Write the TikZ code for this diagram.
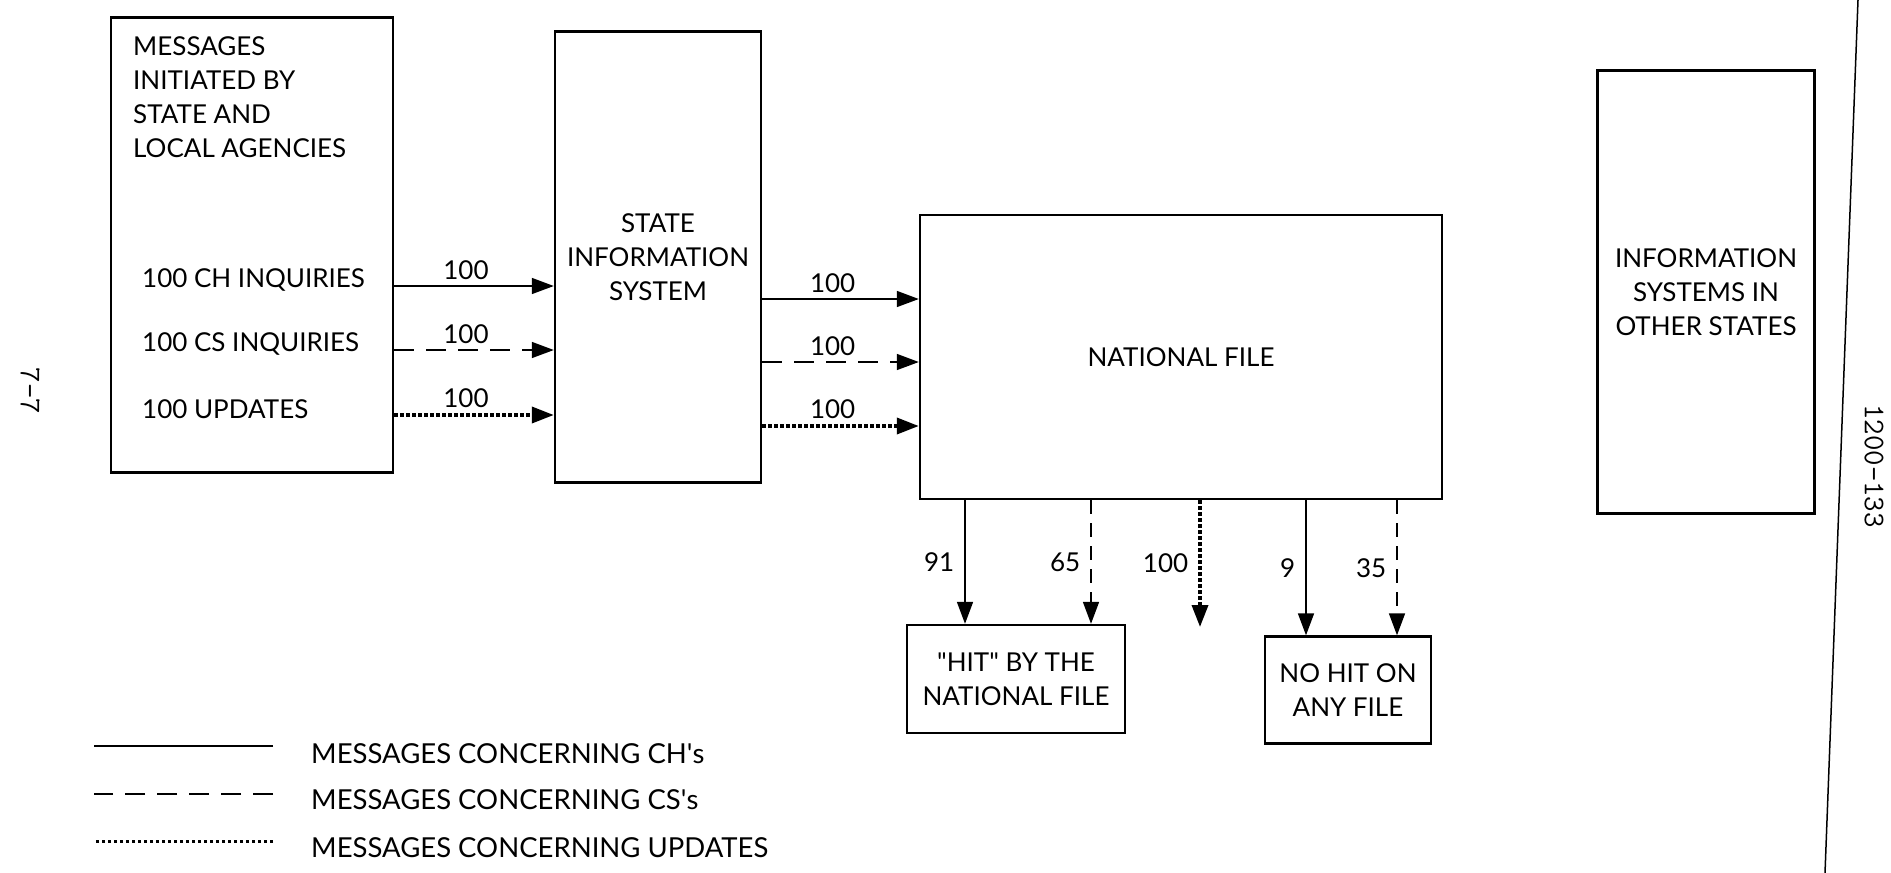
\documentclass[tikz,border=0pt]{standalone}
\usepackage{fontspec}
\setmainfont{Lato}
\usetikzlibrary{arrows.meta,positioning}

\begin{document}
\begin{tikzpicture}[
    x=1pt, y=-1pt,
    font=\fontsize{26}{34}\selectfont,
    box/.style={draw,line width=2.4pt,align=center,inner sep=0pt},
    txt/.style={align=left,inner sep=0pt,anchor=west},
    lgd/.style={txt,font=\fontsize{27.5}{34}\selectfont},
    lbl/.style={inner sep=6pt},
    vlbl/.style={inner sep=10pt},
    ar/.style={-{Triangle[length=22pt,width=16pt]}},
    chl/.style={line width=1.6pt},
    csl/.style={line width=1.6pt,dash pattern=on 20pt off 12pt},
    csv/.style={line width=1.6pt,dash pattern=on 14pt off 9pt},
    updl/.style={line width=3.6pt,dash pattern=on 3.5pt off 2.5pt},
    pgno/.style={rotate=-90,inner sep=0pt,font=\ttfamily\fontsize{30}{30}\selectfont}
  ]
  \useasboundingbox (0,0) rectangle (1891,873);

  % boxes
  \node[box,minimum width=282pt,minimum height=455pt] (msg) at (252,245) {};
  \node[box,minimum width=206pt,minimum height=451pt] (sis) at (658,257) {STATE\\INFORMATION\\SYSTEM};
  \node[box,minimum width=522pt,minimum height=284pt] (national) at (1181,357) {NATIONAL FILE};
  \node[box,minimum width=217pt,minimum height=443pt] (other) at (1706,292) {INFORMATION\\SYSTEMS IN\\OTHER STATES};
  \node[box,minimum width=218pt,minimum height=108pt] (hit) at (1016,679) {\textquotedbl HIT\textquotedbl{} BY THE\\NATIONAL FILE};
  \node[box,minimum width=166pt,minimum height=107pt] (nohit) at (1348,690) {NO HIT ON\\ANY FILE};

  % texts in the first box
  \node[txt,anchor=north west] (head) at (133,36) {MESSAGES\\INITIATED BY\\STATE AND\\LOCAL AGENCIES};
  \node[txt] (ch) at (142,280) {100 CH INQUIRIES};
  \node[txt] (cs) at (142,344) {100 CS INQUIRIES};
  \node[txt] (upd) at (142,409) {100 UPDATES};

  % message rows
  \coordinate (r1) at (0,286);
  \coordinate (r2) at (0,350);
  \coordinate (r3) at (0,415);
  \coordinate (s1) at (0,299);
  \coordinate (s2) at (0,362);
  \coordinate (s3) at (0,426);
  \draw[chl,ar] (msg.east |- r1) -- node[lbl,above,pos=0.45] {100} (sis.west |- r1);
  \draw[csl,ar] (msg.east |- r2) -- node[lbl,above,pos=0.45] {100} (sis.west |- r2);
  \draw[updl,ar] (msg.east |- r3) -- node[lbl,above,pos=0.45] {100} (sis.west |- r3);
  \draw[chl,ar] (sis.east |- s1) -- node[lbl,above,pos=0.45] {100} (national.west |- s1);
  \draw[csl,ar] (sis.east |- s2) -- node[lbl,above,pos=0.45] {100} (national.west |- s2);
  \draw[updl,ar] (sis.east |- s3) -- node[lbl,above,pos=0.45] {100} (national.west |- s3);

  % results
  \coordinate (h1) at ([xshift=-51pt]hit.north);
  \coordinate (h2) at ([xshift=75pt]hit.north);
  \coordinate (drop) at (1200,627);
  \coordinate (n1) at ([xshift=-42pt]nohit.north);
  \coordinate (n2) at ([xshift=49pt]nohit.north);
  \draw[chl,ar] (national.south -| h1) -- node[vlbl,left] {91} (h1);
  \draw[csv,ar] (national.south -| h2) -- node[vlbl,left] {65} (h2);
  \draw[updl,ar] (national.south -| drop) -- node[vlbl,left] {100} (drop);
  \draw[chl,ar] (national.south -| n1) -- node[vlbl,left] {9} (n1);
  \draw[csv,ar] (national.south -| n2) -- node[vlbl,left] {35} (n2);

  % legend
  \node[lgd] (lg1) at (311,754) {MESSAGES CONCERNING CH\textquotesingle s};
  \node[lgd] (lg2) at (311,800) {MESSAGES CONCERNING CS\textquotesingle s};
  \node[lgd] (lg3) at (311,848) {MESSAGES CONCERNING UPDATES};
  \draw[chl] ([xshift=-38pt,yshift=8pt]lg1.west) -- ([xshift=-217pt,yshift=8pt]lg1.west);
  \draw[csl] ([xshift=-38pt,yshift=6pt]lg2.west) -- ([xshift=-217pt,yshift=6pt]lg2.west);
  \draw[updl,line width=3pt] ([xshift=-38pt,yshift=7pt]lg3.west) -- ([xshift=-217pt,yshift=7pt]lg3.west);

  % page marks
  \node[pgno] (pg) at (30,391) {7-7};
  \node[pgno] (fig) at (1874,466) {1200-133};
  \draw[line width=1.5pt] (1858,0) -- (1825,873);
\end{tikzpicture}
\end{document}
